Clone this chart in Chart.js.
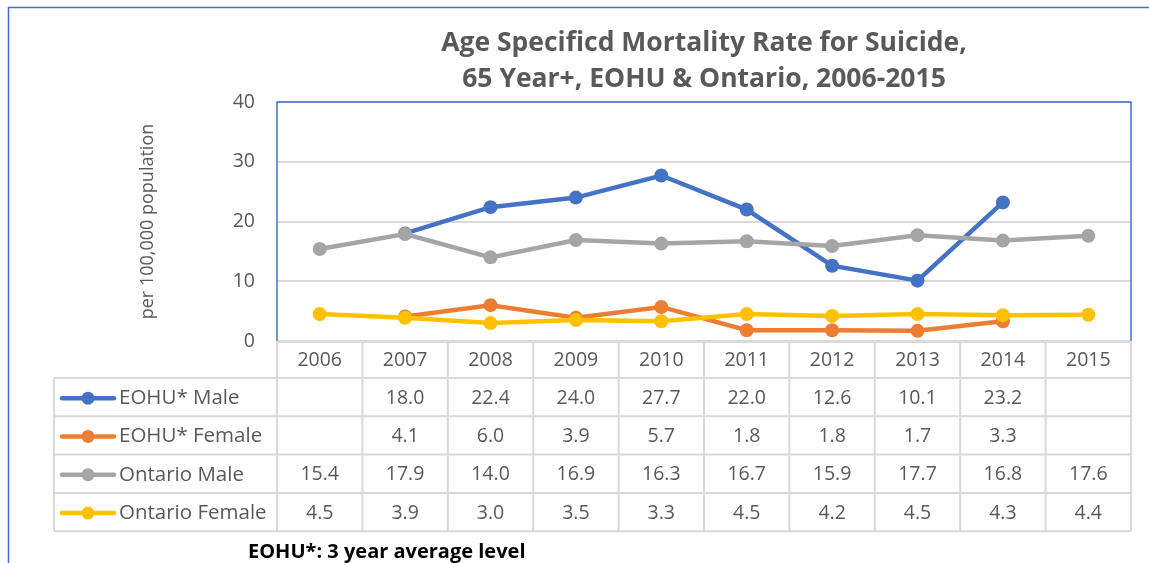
<!DOCTYPE html>
<html>
<head>
<meta charset="utf-8">
<script src="https://cdn.jsdelivr.net/npm/chart.js@4"></script>
<style>
  html, body { margin: 0; padding: 0; background: #fff; }
</style>
</head>
<body>
<canvas id="myChart" width="1149" height="563"></canvas>
<script>
// chart data
let years = ['2006', '2007', '2008', '2009', '2010', '2011', '2012', '2013', '2014', '2015'];
let eohuMale = [null, 18.0, 22.4, 24.0, 27.7, 22.0, 12.6, 10.1, 23.2, null];
let eohuFemale = [null, 4.1, 6.0, 3.9, 5.7, 1.8, 1.8, 1.7, 3.3, null];
let ontarioMale = [15.4, 17.9, 14.0, 16.9, 16.3, 16.7, 15.9, 17.7, 16.8, 17.6];
let ontarioFemale = [4.5, 3.9, 3.0, 3.5, 3.3, 4.5, 4.2, 4.5, 4.3, 4.4];
let seriesNames = ['EOHU* Male', 'EOHU* Female', 'Ontario Male', 'Ontario Female'];
let seriesColors = ['#4472C4', '#ED7D31', '#A5A5A5', '#FFC000'];
let titleLines = ['Age Specificd Mortality Rate for Suicide,', '65 Year+, EOHU & Ontario, 2006-2015'];
let footNote = 'EOHU*: 3 year average level';

let fontName = '"Open Sans", sans-serif';
let textGrey = '#595959';
let gridGrey = '#D9D9D9';

function lineSet(i, values) {
    return {
        label: seriesNames[i],
        data: values,
        borderColor: seriesColors[i],
        backgroundColor: seriesColors[i],
        borderWidth: 4.5,
        pointRadius: 7,
        pointHoverRadius: 7,
        pointBorderWidth: 0,
        fill: false,
        tension: 0,
        order: 4 - i
    };
}

// draws title, data table, footnote and the borders
let tablePlugin = {
    id: 'excelTable',
    afterDraw(chart) {
        let ctx = chart.ctx;
        let area = chart.chartArea;
        let x = chart.scales.x;
        let colW = area.width / years.length;
        let headerBottom = area.bottom + 37;
        let rowH = 38.3;
        let legendLeft = 54;
        let tableBottom = headerBottom + rowH * 4;

        ctx.save();

        // title
        ctx.fillStyle = textGrey;
        ctx.font = 'bold 26.5px ' + fontName;
        ctx.textAlign = 'center';
        ctx.textBaseline = 'middle';
        ctx.fillText(titleLines[0], (area.left + area.right) / 2, 43);
        ctx.fillText(titleLines[1], (area.left + area.right) / 2, 79);

        // table grid
        ctx.strokeStyle = gridGrey;
        ctx.lineWidth = 2;
        ctx.beginPath();
        ctx.moveTo(area.left, area.bottom + 1);
        ctx.lineTo(area.right, area.bottom + 1);
        for (let r = 0; r <= 4; r++) {
            let yy = headerBottom + r * rowH;
            ctx.moveTo(legendLeft, yy);
            ctx.lineTo(area.right, yy);
        }
        for (let c = 0; c <= years.length; c++) {
            let xx = area.left + c * colW;
            ctx.moveTo(xx, area.bottom + 1);
            ctx.lineTo(xx, tableBottom);
        }
        ctx.moveTo(legendLeft, headerBottom);
        ctx.lineTo(legendLeft, tableBottom);
        ctx.stroke();

        // year labels
        ctx.fillStyle = textGrey;
        ctx.font = '19.5px ' + fontName;
        ctx.textAlign = 'center';
        years.forEach((yr, i) => {
            ctx.fillText(yr, x.getPixelForValue(i), (area.bottom + headerBottom) / 2 + 1);
        });

        // rows
        chart.data.datasets.forEach((ds, r) => {
            let cy = headerBottom + (r + 0.5) * rowH + 1;
            ctx.strokeStyle = ds.borderColor;
            ctx.lineWidth = 4.5;
            ctx.lineCap = 'round';
            ctx.beginPath();
            ctx.moveTo(62, cy);
            ctx.lineTo(114, cy);
            ctx.stroke();
            ctx.fillStyle = ds.borderColor;
            ctx.beginPath();
            ctx.arc(88, cy, 6.5, 0, Math.PI * 2);
            ctx.fill();

            ctx.fillStyle = textGrey;
            ctx.textAlign = 'left';
            ctx.font = '20.5px ' + fontName;
            ctx.fillText(ds.label, 119, cy);
            ctx.font = '19.5px ' + fontName;
            ctx.textAlign = 'center';
            ds.data.forEach((v, i) => {
                if (v !== null) ctx.fillText(v.toFixed(1), x.getPixelForValue(i), cy);
            });
        });

        // footnote
        ctx.fillStyle = '#000';
        ctx.font = 'bold 20px ' + fontName;
        ctx.textAlign = 'left';
        ctx.fillText(footNote, 248, 552);

        // plot area border (left, top, right)
        ctx.strokeStyle = '#4472C4';
        ctx.lineWidth = 1.5;
        ctx.lineCap = 'butt';
        ctx.beginPath();
        ctx.moveTo(area.left, area.bottom);
        ctx.lineTo(area.left, area.top);
        ctx.lineTo(area.right, area.top);
        ctx.lineTo(area.right, area.bottom);
        ctx.stroke();

        // outer chart border
        ctx.beginPath();
        ctx.moveTo(8.5, 563);
        ctx.lineTo(8.5, 7.5);
        ctx.lineTo(1149, 7.5);
        ctx.stroke();

        ctx.restore();
    }
};

let ctx = document.getElementById('myChart').getContext('2d');
let myChart = new Chart(ctx, {
    type: 'line',
    data: {
        labels: years,
        datasets: [
            lineSet(0, eohuMale),
            lineSet(1, eohuFemale),
            lineSet(2, ontarioMale),
            lineSet(3, ontarioFemale)
        ]
    },
    options: {
        responsive: false,
        animation: false,
        spanGaps: false,
        layout: {
            padding: { left: 135, top: 102, right: 18, bottom: 222 }
        },
        plugins: {
            legend: { display: false },
            tooltip: { enabled: false }
        },
        scales: {
            x: {
                display: false,
                offset: true
            },
            y: {
                min: 0,
                max: 40,
                afterFit(scale) { scale.width = 142; },
                ticks: {
                    stepSize: 10,
                    padding: 22,
                    color: textGrey,
                    font: { family: fontName, size: 19.5 }
                },
                grid: {
                    color: gridGrey,
                    lineWidth: 2,
                    drawTicks: false
                },
                border: { display: false },
                title: {
                    display: true,
                    text: 'per 100,000 population',
                    color: textGrey,
                    padding: 2,
                    font: { family: fontName, size: 18 }
                }
            }
        }
    },
    plugins: [tablePlugin]
});
</script>
</body>
</html>
